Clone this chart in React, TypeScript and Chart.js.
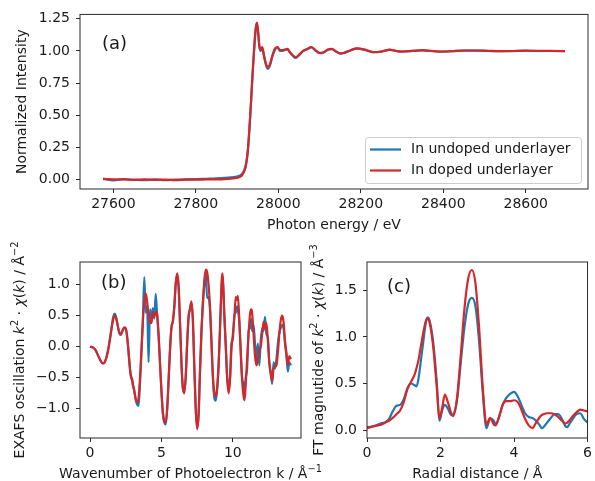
import React, { useEffect, useRef } from "react";
import { Chart, registerables } from "chart.js";
Chart.register(...registerables);

// ---------- data ----------
const seriesLabels = ["In undoped underlayer", "In doped underlayer"];

const energyA = [27575, 27600, 27625, 27650, 27675, 27700, 27725, 27750, 27775, 27800, 27825, 27850, 27870, 27885, 27895, 27905, 27912, 27918, 27922, 27926, 27930, 27934, 27938, 27942, 27945, 27948, 27951, 27954, 27957, 27961, 27965, 27970, 27975, 27980, 27986, 27992, 27998, 28004, 28010, 28016, 28022, 28028, 28035, 28042, 28050, 28060, 28070, 28080, 28090, 28100, 28110, 28120, 28130, 28140, 28150, 28160, 28175, 28190, 28210, 28230, 28250, 28270, 28285, 28300, 28325, 28350, 28370, 28390, 28420, 28450, 28480, 28510, 28540, 28570, 28600, 28630, 28660, 28695];
const undopedA = [0.008, -0.005, 0.004, 0.0, -0.004, 0.002, -0.004, 0.0, 0.002, 0.004, 0.007, 0.01, 0.014, 0.018, 0.022, 0.03, 0.045, 0.08, 0.13, 0.23, 0.4, 0.61, 0.84, 1.04, 1.16, 1.215, 1.14, 1.03, 1.0, 1.02, 0.96, 0.89, 0.86, 0.89, 0.96, 1.01, 1.025, 1.0, 1.0, 1.008, 1.012, 0.988, 0.962, 0.945, 0.965, 0.998, 1.012, 1.027, 1.003, 0.982, 0.988, 1.008, 1.013, 0.994, 0.978, 0.984, 1.003, 1.018, 1.008, 0.99, 0.994, 1.008, 0.999, 0.994, 1.0, 1.003, 0.999, 0.994, 0.997, 1.002, 1.002, 0.999, 0.997, 0.998, 1.001, 0.999, 0.999, 0.997];
const dopedA = [0.005, 0.003, 0.002, -0.002, 0.003, -0.001, 0.001, -0.003, 0.0, 0.0, 0.002, 0.003, 0.005, 0.008, 0.012, 0.02, 0.035, 0.07, 0.12, 0.22, 0.4, 0.62, 0.85, 1.05, 1.17, 1.22, 1.15, 1.04, 1.01, 1.03, 0.97, 0.9, 0.875, 0.9, 0.97, 1.02, 1.03, 1.005, 1.005, 1.01, 1.015, 0.99, 0.965, 0.95, 0.97, 1.0, 1.015, 1.03, 1.005, 0.985, 0.99, 1.01, 1.015, 0.995, 0.98, 0.985, 1.005, 1.02, 1.01, 0.99, 0.995, 1.01, 1.0, 0.995, 1.0, 1.005, 1.0, 0.995, 0.997, 1.003, 1.003, 1.0, 0.998, 0.999, 1.002, 1.0, 1.0, 0.998];
const xTicksA = [27600, 27800, 28000, 28200, 28400, 28600];
const yTicksA = [0, 0.25, 0.5, 0.75, 1.0, 1.25];

const kB = [0.0, 0.2, 0.4, 0.6, 0.8, 0.9, 1.0, 1.1, 1.2, 1.3, 1.4, 1.5, 1.6, 1.7, 1.75, 1.85, 1.95, 2.05, 2.15, 2.25, 2.35, 2.45, 2.55, 2.65, 2.75, 2.85, 2.95, 3.0, 3.1, 3.2, 3.3, 3.4, 3.5, 3.6, 3.7, 3.8, 3.9, 4.0, 4.1, 4.2, 4.3, 4.4, 4.5, 4.6, 4.7, 4.8, 4.9, 5.0, 5.1, 5.2, 5.3, 5.4, 5.5, 5.6, 5.7, 5.8, 5.9, 6.0, 6.1, 6.2, 6.3, 6.4, 6.5, 6.6, 6.7, 6.8, 6.9, 7.0, 7.1, 7.2, 7.3, 7.4, 7.5, 7.6, 7.7, 7.8, 7.9, 8.0, 8.1, 8.2, 8.3, 8.4, 8.5, 8.6, 8.7, 8.8, 8.9, 9.0, 9.1, 9.2, 9.25, 9.3, 9.4, 9.5, 9.6, 9.7, 9.8, 9.9, 10.0, 10.1, 10.2, 10.3, 10.35, 10.45, 10.55, 10.65, 10.75, 10.82, 10.9, 11.0, 11.1, 11.2, 11.28, 11.35, 11.45, 11.55, 11.65, 11.75, 11.85, 11.95, 12.05, 12.15, 12.25, 12.35, 12.45, 12.55, 12.65, 12.75, 12.85, 12.95, 13.05, 13.15, 13.25, 13.35, 13.45, 13.55, 13.65, 13.75, 13.85, 13.95, 14.07];
const undopedB = [0.0, -0.01, -0.06, -0.16, -0.25, -0.27, -0.26, -0.21, -0.12, -0.01, 0.14, 0.3, 0.45, 0.53, 0.53, 0.45, 0.33, 0.22, 0.19, 0.24, 0.29, 0.3, 0.24, 0.04, -0.24, -0.47, -0.55, -0.62, -0.72, -0.86, -0.93, -0.95, -0.6, -0.1, 0.4, 1.12, 0.55, 0.65, -0.25, 0.6, 0.45, 0.62, 0.45, 0.85, 0.5, 0.18, -0.28, -0.72, -1.08, -1.22, -1.25, -1.02, -0.55, -0.05, 0.32, 0.4, 0.62, 1.0, 1.15, 0.95, 0.38, -0.25, -0.68, -0.72, -0.48, 0.05, 0.45, 0.62, 0.7, 0.42, -0.32, -1.0, -1.3, -1.1, -0.4, 0.22, 0.68, 1.0, 1.2, 0.78, 0.8, 0.6, 0.08, -0.5, -0.82, -0.87, -0.7, -0.32, 0.28, 0.92, 1.1, 1.12, 0.5, 0.02, -0.48, -0.7, -0.5, 0.05, 0.12, 0.5, 0.55, 0.65, 0.6, 0.4, -0.05, -0.5, -0.6, -0.75, -0.5, -0.35, 0.25, 0.3, 0.45, 0.25, 0.35, 0.05, -0.2, 0.05, -0.3, 0.1, 0.3, 0.25, 0.48, 0.2, 0.15, -0.25, -0.4, -0.6, -0.25, -0.35, -0.2, 0.05, 0.22, 0.3, 0.35, 0.3, 0.05, -0.15, -0.4, -0.25, -0.3];
const dopedB = [0.0, -0.01, -0.06, -0.16, -0.25, -0.27, -0.26, -0.21, -0.13, -0.02, 0.12, 0.27, 0.41, 0.49, 0.5, 0.44, 0.33, 0.23, 0.2, 0.24, 0.3, 0.31, 0.25, 0.05, -0.22, -0.45, -0.52, -0.6, -0.7, -0.84, -0.9, -0.82, -0.5, -0.05, 0.42, 0.72, 0.86, 0.72, 0.52, 0.4, 0.38, 0.55, 0.48, 0.56, 0.52, 0.2, -0.25, -0.7, -1.05, -1.2, -1.22, -1.0, -0.55, -0.05, 0.3, 0.42, 0.65, 1.02, 1.18, 1.0, 0.4, -0.25, -0.65, -0.75, -0.5, 0.05, 0.5, 0.6, 0.73, 0.45, -0.3, -1.0, -1.33, -1.1, -0.4, 0.25, 0.7, 1.05, 1.24, 1.2, 1.0, 0.65, 0.1, -0.45, -0.75, -0.8, -0.65, -0.3, 0.3, 0.95, 1.18, 1.1, 0.55, 0.05, -0.5, -0.75, -0.55, -0.05, 0.2, 0.45, 0.8, 0.75, 0.82, 0.45, -0.1, -0.55, -0.8, -0.86, -0.6, -0.2, 0.2, 0.52, 0.6, 0.55, 0.2, -0.15, -0.3, -0.2, -0.05, 0.0, 0.2, 0.4, 0.3, 0.38, 0.1, -0.25, -0.45, -0.55, -0.35, -0.32, -0.3, -0.1, 0.2, 0.42, 0.5, 0.4, 0.1, -0.1, -0.3, -0.15, -0.2];
const xTicksB = [0, 5, 10];
const yTicksB = [-1.0, -0.5, 0.0, 0.5, 1.0];

const rC = [0, 0.1, 0.2, 0.3, 0.4, 0.5, 0.6, 0.7, 0.8, 0.9, 1.0, 1.1, 1.2, 1.3, 1.35, 1.4, 1.5, 1.6, 1.65, 1.7, 1.8, 1.9, 1.97, 2.05, 2.12, 2.2, 2.3, 2.35, 2.45, 2.55, 2.65, 2.75, 2.85, 2.95, 3.05, 3.15, 3.25, 3.35, 3.45, 3.5, 3.6, 3.7, 3.8, 3.9, 4.0, 4.1, 4.2, 4.3, 4.4, 4.5, 4.6, 4.7, 4.75, 4.8, 4.9, 5.0, 5.1, 5.2, 5.3, 5.4, 5.45, 5.5, 5.6, 5.7, 5.8, 5.9, 6.0];
const undopedC = [0.03, 0.035, 0.04, 0.06, 0.075, 0.085, 0.12, 0.2, 0.26, 0.27, 0.33, 0.45, 0.5, 0.48, 0.47, 0.55, 0.85, 1.15, 1.21, 1.18, 0.95, 0.5, 0.1, 0.22, 0.27, 0.23, 0.16, 0.17, 0.32, 0.72, 1.1, 1.35, 1.42, 1.33, 0.95, 0.4, 0.02, 0.12, 0.1, 0.06, 0.15, 0.28, 0.35, 0.39, 0.41, 0.36, 0.27, 0.18, 0.14, 0.13, 0.1, 0.05, 0.02, 0.03, 0.08, 0.13, 0.17, 0.17, 0.12, 0.04, 0.03, 0.06, 0.12, 0.17, 0.18, 0.12, 0.08];
const dopedC = [0.02, 0.03, 0.045, 0.05, 0.06, 0.08, 0.1, 0.13, 0.17, 0.21, 0.3, 0.44, 0.52, 0.6, 0.67, 0.75, 0.98, 1.17, 1.2, 1.16, 0.9, 0.45, 0.12, 0.25, 0.38, 0.3, 0.17, 0.15, 0.35, 0.8, 1.3, 1.62, 1.72, 1.58, 1.1, 0.45, 0.06, 0.13, 0.06, 0.05, 0.15, 0.28, 0.31, 0.31, 0.32, 0.3, 0.22, 0.12, 0.05, 0.02, 0.08, 0.14, 0.16, 0.17, 0.18, 0.18, 0.17, 0.14, 0.1, 0.07, 0.08, 0.1, 0.15, 0.19, 0.22, 0.21, 0.2];
const xTicksC = [0, 2, 4, 6];
const yTicksC = [0.0, 0.5, 1.0, 1.5];

// ---------- style ----------
const BLUE = "#1f77b4";
const RED = "#d62728";
const TEXT = "#1a1a1a";
const FRAME = "#2a2a2a";
const FONT = '"DejaVu Sans"';
const FS = 14;
const TAG_FS = 18;
const LW = 2.2;
const W = 595;
const H = 481;

type Seg = { t: string; it?: boolean; sup?: boolean };

function drawRich(ctx: CanvasRenderingContext2D, segs: Seg[], x: number, y: number, rotate: boolean, size: number) {
  ctx.save();
  ctx.translate(x, y);
  if (rotate) ctx.rotate(-Math.PI / 2);
  const fontFor = (s: Seg) => `${s.it ? "italic " : ""}${s.sup ? size * 0.7 : size}px ${FONT}`;
  let w = 0;
  for (const s of segs) {
    ctx.font = fontFor(s);
    w += ctx.measureText(s.t).width;
  }
  let cx = -w / 2;
  ctx.textBaseline = "alphabetic";
  ctx.textAlign = "left";
  ctx.fillStyle = TEXT;
  for (const s of segs) {
    ctx.font = fontFor(s);
    ctx.fillText(s.t, cx, s.sup ? -size * 0.42 : 0);
    cx += ctx.measureText(s.t).width;
  }
  ctx.restore();
}

const chiSegs = (pow: string): Seg[] => [
  { t: "k", it: true },
  { t: "2", sup: true },
  { t: " \u00b7 " },
  { t: "\u03c7", it: true },
  { t: "(" },
  { t: "k", it: true },
  { t: ") / \u00c5" },
  { t: pow, sup: true },
];

interface PanelCfg {
  xs: number[];
  undoped: number[];
  doped: number[];
  xMin: number;
  xMax: number;
  yMin: number;
  yMax: number;
  xTicks: number[];
  yTicks: number[];
  xFmt: (v: number) => string;
  yFmt: (v: number) => string;
  padding: { left: number; top: number; right: number; bottom: number };
  yWidth: number;
  xHeight: number;
  tag: string;
  tagDx: number;
  tagDy: number;
  xTitle: Seg[];
  yTitle: Seg[];
  yTitleX: number;
  legend: boolean;
}

const fmtMinus = (s: string) => s.replace("-", "\u2212");

const panels: PanelCfg[] = [
  {
    xs: energyA, undoped: undopedA, doped: dopedA,
    xMin: 27519, xMax: 28751, yMin: -0.072, yMax: 1.283,
    xTicks: xTicksA, yTicks: yTicksA,
    xFmt: (v) => String(v), yFmt: (v) => fmtMinus(v.toFixed(2)),
    padding: { left: 0, top: 14, right: 7, bottom: 252 },
    yWidth: 80, xHeight: 40,
    tag: "(a)", tagDx: 22, tagDy: 30,
    xTitle: [{ t: "Photon energy / eV" }],
    yTitle: [{ t: "Normalized Intensity" }],
    yTitleX: 26,
    legend: true,
  },
  {
    xs: kB, undoped: undopedB, doped: dopedB,
    xMin: -0.7, xMax: 14.77, yMin: -1.47, yMax: 1.364,
    xTicks: xTicksB, yTicks: yTicksB,
    xFmt: (v) => String(v), yFmt: (v) => fmtMinus(v.toFixed(1)),
    padding: { left: 0, top: 262, right: 294, bottom: 13 },
    yWidth: 80, xHeight: 30,
    tag: "(b)", tagDx: 21, tagDy: 21,
    xTitle: [{ t: "Wavenumber of Photoelectron k / \u00c5" }, { t: "\u22121", sup: true }],
    yTitle: [{ t: "EXAFS oscillation " }, ...chiSegs("\u22122")],
    yTitleX: 24,
    legend: false,
  },
  {
    xs: rC, undoped: undopedC, doped: dopedC,
    xMin: 0, xMax: 6, yMin: -0.086, yMax: 1.806,
    xTicks: xTicksC, yTicks: yTicksC,
    xFmt: (v) => String(v), yFmt: (v) => fmtMinus(v.toFixed(1)),
    padding: { left: 0, top: 262, right: 7, bottom: 13 },
    yWidth: 367, xHeight: 30,
    tag: "(c)", tagDx: 20, tagDy: 25,
    xTitle: [{ t: "Radial distance / \u00c5" }],
    yTitle: [{ t: "FT magnutide of " }, ...chiSegs("\u22123")],
    yTitleX: 323,
    legend: false,
  },
];

function makeChart(canvas: HTMLCanvasElement, p: PanelCfg) {
  const decor = {
    id: "decor",
    afterDatasetsDraw(chart: any) {
      const ctx: CanvasRenderingContext2D = chart.ctx;
      const a = chart.chartArea;
      ctx.save();
      ctx.strokeStyle = FRAME;
      ctx.lineWidth = 1;
      ctx.strokeRect(a.left, a.top, a.right - a.left, a.bottom - a.top);
      ctx.fillStyle = TEXT;
      ctx.font = `${TAG_FS}px ${FONT}`;
      ctx.textBaseline = "middle";
      ctx.textAlign = "left";
      ctx.fillText(p.tag, a.left + p.tagDx, a.top + p.tagDy);
      ctx.restore();
      drawRich(ctx, p.xTitle, (a.left + a.right) / 2, a.bottom + 40, false, FS);
      drawRich(ctx, p.yTitle, p.yTitleX, (a.top + a.bottom) / 2, true, FS);
      if (p.legend) {
        const bx = a.right - 223;
        const by = a.bottom - 52;
        ctx.save();
        ctx.fillStyle = "rgba(255,255,255,0.85)";
        ctx.strokeStyle = "#cccccc";
        ctx.lineWidth = 1;
        ctx.beginPath();
        (ctx as any).roundRect(bx + 0.5, by + 0.5, 216, 46, 3);
        ctx.fill();
        ctx.stroke();
        const cols = [BLUE, RED];
        ctx.font = `${FS}px ${FONT}`;
        ctx.textBaseline = "middle";
        ctx.textAlign = "left";
        seriesLabels.forEach((lab, i) => {
          const ly = by + 12.5 + i * 21;
          ctx.strokeStyle = cols[i];
          ctx.lineWidth = LW;
          ctx.beginPath();
          ctx.moveTo(bx + 5, ly);
          ctx.lineTo(bx + 36, ly);
          ctx.stroke();
          ctx.fillStyle = TEXT;
          ctx.fillText(lab, bx + 46, ly);
        });
        ctx.restore();
      }
    },
  };

  const grid = { display: true, drawOnChartArea: false, drawTicks: true, tickLength: 4, color: FRAME, lineWidth: 1 };
  return new Chart(canvas, {
    type: "line",
    data: {
      datasets: [
        {
          label: seriesLabels[0],
          data: p.xs.map((x, i) => ({ x, y: p.undoped[i] })),
          borderColor: BLUE,
          borderWidth: LW,
          pointRadius: 0,
          fill: false,
          cubicInterpolationMode: "monotone",
          order: 1,
        },
        {
          label: seriesLabels[1],
          data: p.xs.map((x, i) => ({ x, y: p.doped[i] })),
          borderColor: RED,
          borderWidth: LW,
          pointRadius: 0,
          fill: false,
          cubicInterpolationMode: "monotone",
          order: 0,
        },
      ],
    },
    options: {
      responsive: false,
      animation: false,
      devicePixelRatio: 1,
      events: [],
      layout: { padding: p.padding },
      plugins: { legend: { display: false }, tooltip: { enabled: false } },
      scales: {
        x: {
          type: "linear",
          min: p.xMin,
          max: p.xMax,
          afterBuildTicks: (s: any) => { s.ticks = p.xTicks.map((v) => ({ value: v })); },
          afterFit: (s: any) => { s.height = p.xHeight; },
          ticks: { autoSkip: false, maxRotation: 0, padding: 3, color: TEXT, font: { family: FONT, size: FS }, callback: (v: any) => p.xFmt(Number(v)) },
          grid,
          border: { display: false },
        },
        y: {
          type: "linear",
          min: p.yMin,
          max: p.yMax,
          afterBuildTicks: (s: any) => { s.ticks = p.yTicks.map((v) => ({ value: v })); },
          afterFit: (s: any) => { s.width = p.yWidth; },
          ticks: { autoSkip: false, padding: 6, color: TEXT, font: { family: FONT, size: FS }, callback: (v: any) => p.yFmt(Number(v)) },
          grid,
          border: { display: false },
        },
      },
    } as any,
    plugins: [decor],
  });
}

function Panel({ cfg }: { cfg: PanelCfg }) {
  const ref = useRef<HTMLCanvasElement>(null);
  useEffect(() => {
    if (!ref.current) return;
    const c = makeChart(ref.current, cfg);
    return () => c.destroy();
  }, [cfg]);
  return (
    <canvas
      ref={ref}
      width={W}
      height={H}
      style={{ position: "absolute", left: 0, top: 0, width: W, height: H, display: "block" }}
    />
  );
}

export default function App() {
  return (
    <div style={{ position: "fixed", left: 0, top: 0, width: W, height: H, background: "#ffffff", overflow: "hidden" }}>
      {panels.map((p, i) => (
        <Panel key={i} cfg={p} />
      ))}
    </div>
  );
}
